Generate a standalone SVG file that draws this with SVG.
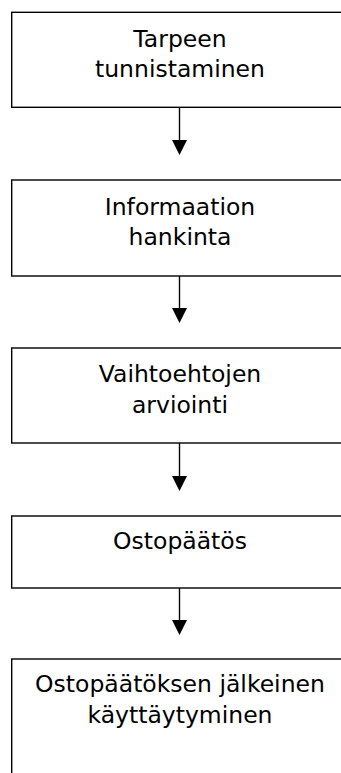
<svg xmlns="http://www.w3.org/2000/svg" width="341" height="773" viewBox="0 0 341 773">
<style>
.box{fill:#fff;stroke:#000;stroke-width:1.4}
.t{font-family:"DejaVu Sans",Verdana,sans-serif;font-size:23.5px;fill:#000;text-anchor:middle}
.c{stroke:#000;stroke-width:1.4;fill:none}
.h{fill:#000;stroke:none}
</style>
<rect width="341" height="773" fill="#fff"/>
<g id="n1">
<rect class="box" x="11.7" y="12.3" width="336" height="95"/>
<text class="t" x="180" y="46.7">Tarpeen</text>
<text class="t" x="180" y="76.7">tunnistaminen</text>
</g>
<g id="n2">
<rect class="box" x="11.7" y="180" width="336" height="96"/>
<text class="t" x="180" y="215">Informaation</text>
<text class="t" x="180" y="245">hankinta</text>
</g>
<g id="n3">
<rect class="box" x="11.7" y="348" width="336" height="95"/>
<text class="t" x="180" y="382">Vaihtoehtojen</text>
<text class="t" x="180" y="412.5">arviointi</text>
</g>
<g id="n4">
<rect class="box" x="11.7" y="516" width="336" height="72"/>
<text class="t" x="180" y="548.5">Ostopäätös</text>
</g>
<g id="n5">
<rect class="box" x="11.7" y="659" width="336" height="130"/>
<text class="t" x="180" y="692">Ostopäätöksen jälkeinen</text>
<text class="t" x="180" y="723">käyttäytyminen</text>
</g>
<g id="connectors">
<line class="c" x1="179.5" y1="107.3" x2="179.5" y2="141"/>
<polygon class="h" points="172,140 187,140 179.5,155"/>
<line class="c" x1="179.5" y1="276" x2="179.5" y2="309"/>
<polygon class="h" points="172,308 187,308 179.5,323"/>
<line class="c" x1="179.5" y1="443" x2="179.5" y2="477"/>
<polygon class="h" points="172,476 187,476 179.5,491"/>
<line class="c" x1="179.5" y1="588" x2="179.5" y2="621"/>
<polygon class="h" points="172,620 187,620 179.5,635"/>
</g>
</svg>
